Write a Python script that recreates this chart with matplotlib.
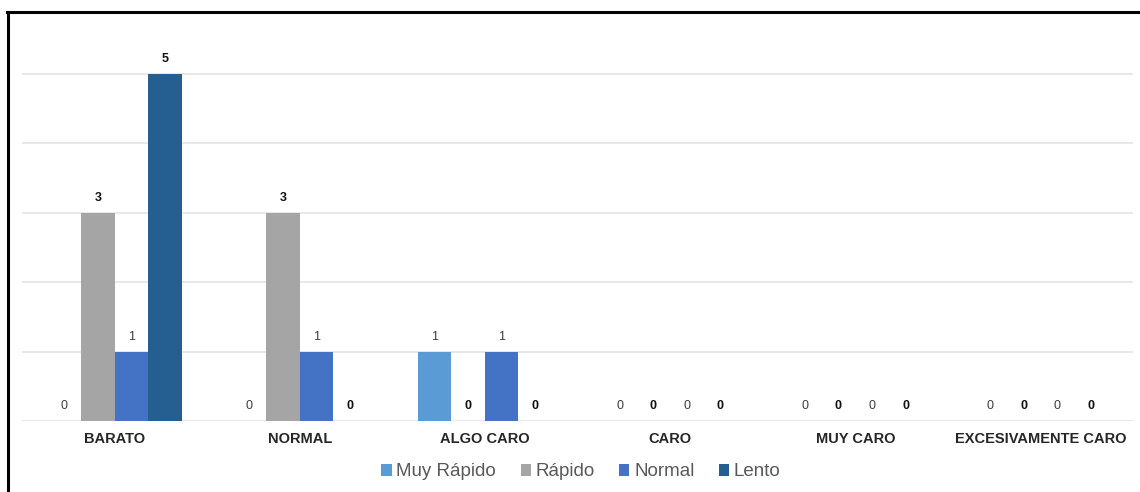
import numpy as np
import matplotlib
matplotlib.use('Agg')
import matplotlib.pyplot as plt
from matplotlib.lines import Line2D

plt.rcParams['font.family'] = ['Liberation Sans', 'DejaVu Sans']

categorias = ['BARATO', 'NORMAL', 'ALGO CARO', 'CARO', 'MUY CARO', 'EXCESIVAMENTE CARO']
series = ['Muy Rápido', 'Rápido', 'Normal', 'Lento']
muy_rapido = [0, 0, 1, 0, 0, 0]
rapido = [3, 3, 0, 0, 0, 0]
normal = [1, 1, 1, 0, 0, 0]
lento = [5, 0, 0, 0, 0, 0]
valores = [muy_rapido, rapido, normal, lento]

colores = ['#5b9bd5', '#a5a5a5', '#4472c4', '#255e91']
col_etiqueta = ['#3c3c3c', '#111111', '#3c3c3c', '#111111']
peso_etiqueta = ['normal', 'bold', 'normal', 'bold']

W, H = 1140, 492
fig = plt.figure(figsize=(W / 100, H / 100), dpi=100)
ax = fig.add_axes([22 / W, 1 - 421 / H, 1111 / W, (421 - 39.3) / H])

x = np.arange(len(categorias))
ancho = 0.181
for i, (nombre, vals) in enumerate(zip(series, valores)):
    pos = x + (i - 1.5) * ancho
    barras = ax.bar(pos, vals, ancho, color=colores[i], label=nombre, zorder=3)
    for b, v in zip(barras, vals):
        ax.annotate(str(v), (b.get_x() + b.get_width() / 2, v),
                    xytext=(0, 6.5), textcoords='offset points',
                    ha='center', va='bottom', fontsize=9,
                    fontweight=peso_etiqueta[i], color=col_etiqueta[i])

ax.set_xlim(-0.5, len(categorias) - 0.5)
ax.set_ylim(0, 5.5)
ax.set_yticks(range(0, 6))
ax.yaxis.grid(True, color='#e4e4e4', linewidth=1.2, zorder=0)
ax.tick_params(axis='y', left=False, labelleft=False)
ax.tick_params(axis='x', length=0, pad=8)
ax.set_xticks(x)
ax.set_xticklabels(categorias, fontsize=10.5, fontweight='bold', color='#262626')
for s in ax.spines.values():
    s.set_visible(False)

fig.legend(loc='center', bbox_to_anchor=(581 / W, 1 - 472 / H), ncol=4,
           frameon=False, fontsize=13.5, handlelength=0.55, handleheight=0.55,
           handletextpad=0.25, columnspacing=1.3, labelcolor='#595959')

# marco del grafico (solo izquierda y arriba quedan dentro)
fig.add_artist(Line2D([7.5 / W, 7.5 / W], [0, 1 - 12 / H], color='black',
                      linewidth=2.2, transform=fig.transFigure))
fig.add_artist(Line2D([6.5 / W, 1], [1 - 12 / H, 1 - 12 / H], color='black',
                      linewidth=2.2, transform=fig.transFigure))

plt.savefig('out.png', dpi=100)
